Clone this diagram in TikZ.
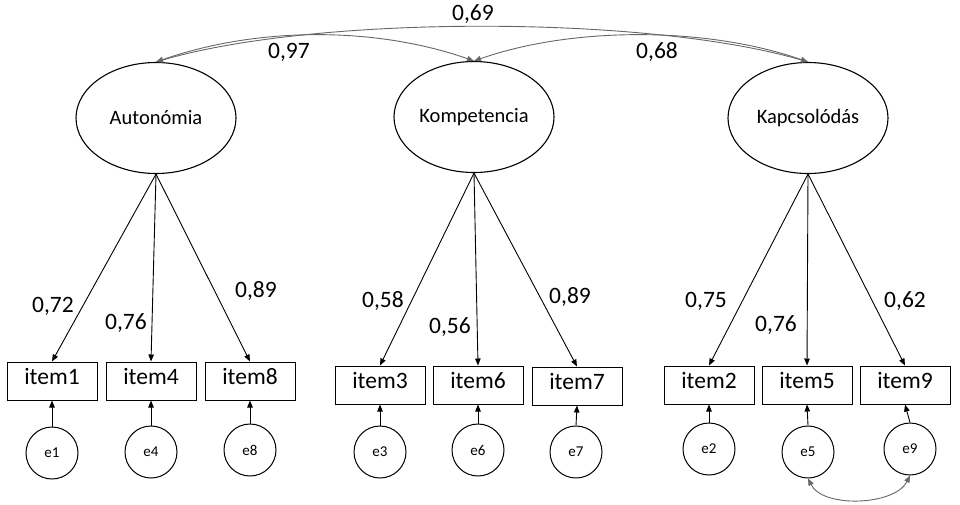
\documentclass[tikz,border=0pt]{standalone}
\usepackage{fontspec}
\setmainfont{Carlito}
\usetikzlibrary{shapes.geometric,arrows.meta}

\tikzset{
  latent/.style={ellipse, draw, line width=1.1pt, minimum width=160pt, minimum height=111pt, inner sep=0pt, font=\fontsize{20.5}{22}\selectfont},
  observed/.style={rectangle, draw, line width=1pt, minimum width=90pt, minimum height=38pt, inner sep=0pt, font=\fontsize{23.5}{25}\selectfont, text height=0.7em, text depth=0pt},
  errterm/.style={circle, draw, line width=1pt, minimum size=52pt, inner sep=0pt, font=\fontsize{15}{16}\selectfont},
  coef/.style={inner sep=0pt, font=\fontsize{23.5}{25}\selectfont, text height=0.63em, text depth=0pt},
  load/.style={line width=0.9pt, -{Triangle[length=7pt,width=5.5pt]}},
  covar/.style={line width=0.9pt, draw=black!60, {Triangle[length=7pt,width=5.5pt]}-{Triangle[length=7pt,width=5.5pt]}}
}

\begin{document}
\begin{tikzpicture}[x=1pt, y=-1pt]
\useasboundingbox (0,0) rectangle (960,504);

% latent factors
\node[latent] (aut) at (156,118) {Autonómia};
\node[latent] (komp) at (474,117) {Kompetencia};
\node[latent] (kap) at (808,118) {Kapcsolódás};

% indicators
\node[observed] (i1) at (52,381) {item1};
\node[observed] (i4) at (151,381) {item4};
\node[observed] (i8) at (250,381) {item8};
\node[observed] (i3) at (380,385) {item3};
\node[observed] (i6) at (478,385) {item6};
\node[observed] (i7) at (577,386) {item7};
\node[observed] (i2) at (709,385) {item2};
\node[observed] (i5) at (807,385) {item5};
\node[observed] (i9) at (905,385) {item9};

% error terms
\node[errterm] (e1) at (52,453) {e1};
\node[errterm] (e4) at (151,452) {e4};
\node[errterm] (e8) at (250,450) {e8};
\node[errterm] (e3) at (380,452) {e3};
\node[errterm] (e6) at (478,450) {e6};
\node[errterm] (e7) at (576,452) {e7};
\node[errterm] (e2) at (709,449) {e2};
\node[errterm] (e5) at (808,452) {e5};
\node[errterm] (e9) at (910,449) {e9};

% factor loadings
\draw[load] (aut.south) -- (i1.north);
\draw[load] (aut.south) -- (i4.north);
\draw[load] (aut.south) -- (i8.north);
\draw[load] (komp.south) -- (i3.north);
\draw[load] (komp.south) -- (i6.north);
\draw[load] (komp.south) -- (i7.north);
\draw[load] (kap.south) -- (i2.north);
\draw[load] (kap.south) -- (i5.north);
\draw[load] (kap.south) -- (i9.north);

% error paths
\foreach \e/\i in {e1/i1,e4/i4,e8/i8,e3/i3,e6/i6,e7/i7,e2/i2,e5/i5,e9/i9}
  \draw[load] (\e.north) -- (\i.south);

% factor correlations
\draw[covar] (aut.north) .. controls +(100,-35) and +(-100,-35) .. (komp.north);
\draw[covar] (komp.north) .. controls +(100,-35) and +(-100,-35) .. (kap.north);
\draw[covar] (aut.north) .. controls +(160,-47) and +(-160,-47) .. (kap.north);

% residual correlation
\draw[covar] (e5.south) .. controls +(15,30) and +(-15,30) .. (e9.south);

% coefficients
\node[coef] (c97) at (289,55) {0,97};
\node[coef] (c68) at (657,55) {0,68};
\node[coef] (c69) at (473,17) {0,69};
\node[coef] (c72) at (53,309) {0,72};
\node[coef] (c76a) at (126,326) {0,76};
\node[coef] (c89a) at (256,294) {0,89};
\node[coef] (c58) at (383,304) {0,58};
\node[coef] (c56) at (450,330) {0,56};
\node[coef] (c89b) at (570,300) {0,89};
\node[coef] (c75) at (706,304) {0,75};
\node[coef] (c76b) at (776,328) {0,76};
\node[coef] (c62) at (905,304) {0,62};
\end{tikzpicture}
\end{document}
